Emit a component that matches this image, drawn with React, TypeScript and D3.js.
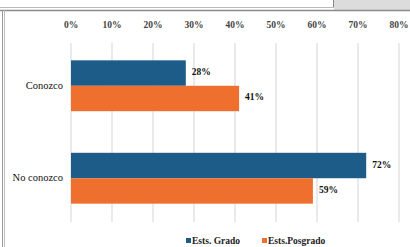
import { useEffect, useRef } from "react";
import * as d3 from "d3";

const categories = ["Conozco", "No conozco"];
const seriesNames = ["Ests. Grado", "Ests.Posgrado"];
const grado = [28, 72];
const posgrado = [41, 59];
const ticks = [0, 10, 20, 30, 40, 50, 60, 70, 80];
const colors = ["#1d5b88", "#ef6f2e"];

export default function App() {
  const ref = useRef<SVGSVGElement | null>(null);
  const width = 410;
  const height = 247;

  useEffect(() => {
    const svg = d3.select(ref.current);
    svg.selectAll("*").remove();

    const font = "'Liberation Serif', 'Times New Roman', serif";

    // frame bits from the screenshot
    svg.append("rect").attr("x", 0).attr("y", 0).attr("width", width).attr("height", height).attr("fill", "#fff");
    svg.append("rect").attr("x", 334).attr("y", 0).attr("width", 76).attr("height", 10).attr("fill", "#dcdcdc");
    svg.append("line").attr("x1", 333.5).attr("x2", 333.5).attr("y1", 0).attr("y2", 8).attr("stroke", "#888");
    svg.append("line").attr("x1", 0).attr("x2", 334).attr("y1", 7.5).attr("y2", 7.5).attr("stroke", "#bbb");
    svg.append("line").attr("x1", 0).attr("x2", width).attr("y1", 10.5).attr("y2", 10.5).attr("stroke", "#8a8a8a").attr("stroke-width", 1.5);
    svg.append("line").attr("x1", 2.5).attr("x2", 2.5).attr("y1", 10).attr("y2", height).attr("stroke", "#999").attr("stroke-width", 1);
    svg.append("line").attr("x1", 4.5).attr("x2", 4.5).attr("y1", 10).attr("y2", height).attr("stroke", "#bbb").attr("stroke-width", 1);

    const x = d3.scaleLinear().domain([0, 80]).range([71, 399]);
    const y0 = d3.scaleBand<string>().domain(categories).range([40, 224]).paddingInner(0.45).paddingOuter(0.22);
    const y1 = d3.scaleBand<string>().domain(seriesNames).range([0, y0.bandwidth()]);

    // grid
    svg.append("g")
      .selectAll("line")
      .data(ticks)
      .join("line")
      .attr("x1", (d) => x(d))
      .attr("x2", (d) => x(d))
      .attr("y1", 43)
      .attr("y2", 222)
      .attr("stroke", "#e3e3e3")
      .attr("stroke-width", 1.5);

    // tick labels on top
    svg.append("g")
      .selectAll("text")
      .data(ticks)
      .join("text")
      .attr("x", (d) => x(d))
      .attr("y", 28)
      .attr("text-anchor", "middle")
      .attr("font-family", font)
      .attr("font-size", 9.5)
      .attr("font-weight", "bold")
      .attr("fill", "#444")
      .text((d) => `${d}%`);

    const rows = categories.map((c, i) => ({ c, vals: [grado[i], posgrado[i]] }));

    const g = svg.append("g")
      .selectAll("g")
      .data(rows)
      .join("g")
      .attr("transform", (d) => `translate(0,${y0(d.c)})`);

    g.selectAll("rect")
      .data((d) => d.vals.map((v, j) => ({ v, s: seriesNames[j], j })))
      .join("rect")
      .attr("x", x(0))
      .attr("y", (d) => y1(d.s)!)
      .attr("width", (d) => x(d.v) - x(0))
      .attr("height", y1.bandwidth())
      .attr("fill", (d) => colors[d.j]);

    g.selectAll("text.val")
      .data((d) => d.vals.map((v, j) => ({ v, s: seriesNames[j] })))
      .join("text")
      .attr("class", "val")
      .attr("x", (d) => x(d.v) + 6)
      .attr("y", (d) => y1(d.s)! + y1.bandwidth() / 2 + 2)
      .attr("font-family", font)
      .attr("font-size", 9.5)
      .attr("font-weight", "bold")
      .attr("fill", "#111")
      .text((d) => `${d.v}%`);

    // category labels
    svg.append("g")
      .selectAll("text")
      .data(categories)
      .join("text")
      .attr("x", 63)
      .attr("y", (d) => y0(d)! + y0.bandwidth() / 2 + 3)
      .attr("text-anchor", "end")
      .attr("font-family", font)
      .attr("font-size", 10.5)
      .attr("fill", "#111")
      .text((d) => d);

    // legend
    const leg = svg.append("g").attr("transform", "translate(186,244)");
    const offs = [0, 76];
    seriesNames.forEach((s, i) => {
      leg.append("rect").attr("x", offs[i]).attr("y", -6).attr("width", 5).attr("height", 5).attr("fill", colors[i]);
      leg.append("text")
        .attr("x", offs[i] + 6)
        .attr("y", 0)
        .attr("font-family", font)
        .attr("font-size", 9.5)
        .attr("font-weight", "bold")
        .attr("fill", "#222")
        .text(s);
    });
  }, []);

  return (
    <svg
      ref={ref}
      width={width}
      height={height}
      style={{ position: "absolute", left: 0, top: 0, display: "block" }}
    />
  );
}
